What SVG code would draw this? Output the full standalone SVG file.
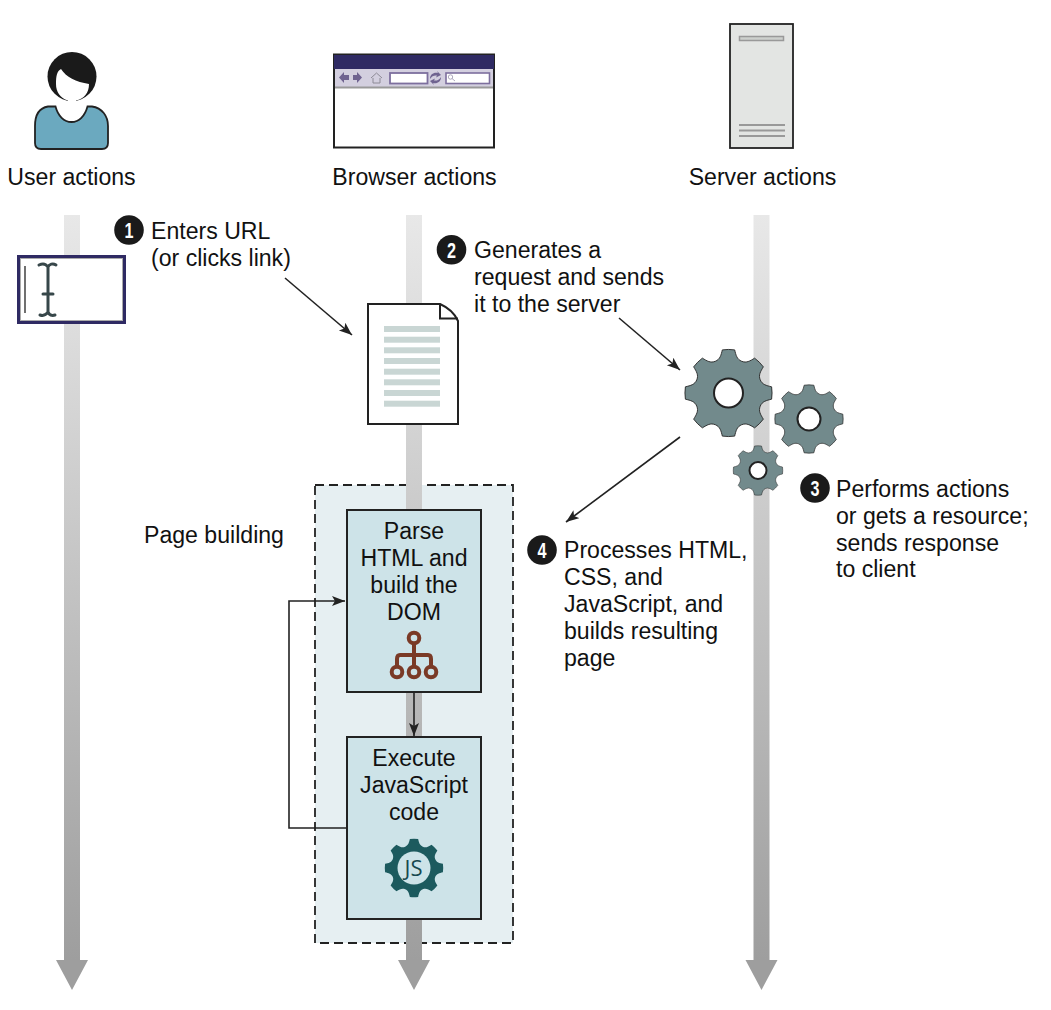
<svg xmlns="http://www.w3.org/2000/svg" width="1051" height="1010" viewBox="0 0 1051 1010">
<style>
text{font-family:"Liberation Sans",Arial,sans-serif;font-size:23.1px;fill:#111}
.c{text-anchor:middle}
.num{font-size:22px;font-weight:bold;fill:#fff}
.ln{fill:none;stroke:#222;stroke-width:1.6}
.box{fill:#cde3e8;stroke:#222;stroke-width:2}
.gear{fill:#728a8c;stroke:#222;stroke-width:2;stroke-linejoin:round;vector-effect:non-scaling-stroke}
.hole{fill:#fff;stroke:#222;stroke-width:2}
.dl{fill:#c9d6d4}
.tb{fill:#6f6390}
.sl{stroke:#999;stroke-width:2}
</style>
<defs>
<linearGradient id="life" gradientUnits="userSpaceOnUse" x1="0" y1="215" x2="0" y2="960">
<stop offset="0" stop-color="#e8e8e8"/><stop offset="1" stop-color="#9e9e9e"/>
</linearGradient>
<marker id="arr" markerUnits="userSpaceOnUse" markerWidth="15" markerHeight="12" refX="13" refY="5" orient="auto">
<path d="M0,0L13,5L0,10L3,5Z" fill="#222"/>
</marker>
<path id="gearShape" d="M-29.900,-72.100C-18.900,-76.700 -17,-86 -14,-98Q0,-100 14,-98C17,-86 18.900,-76.700 29.900,-72.100C40.900,-67.600 48.800,-72.800 59.400,-79.200Q70.700,-70.700 79.200,-59.400C72.800,-48.800 67.600,-40.900 72.100,-29.900C76.700,-18.900 86,-17 98,-14Q100,0 98,14C86,17 76.700,18.900 72.100,29.900C67.600,40.900 72.800,48.800 79.200,59.400Q70.700,70.700 59.400,79.200C48.800,72.800 40.900,67.600 29.900,72.100C18.900,76.700 17,86 14,98Q0,100 -14,98C-17,86 -18.900,76.700 -29.900,72.100C-40.900,67.600 -48.800,72.800 -59.400,79.200Q-70.700,70.700 -79.200,59.400C-72.800,48.800 -67.600,40.900 -72.100,29.900C-76.700,18.900 -86,17 -98,14Q-100,0 -98,-14C-86,-17 -76.700,-18.900 -72.100,-29.900C-67.600,-40.900 -72.800,-48.800 -79.200,-59.400Q-70.700,-70.700 -59.400,-79.200C-48.800,-72.800 -40.900,-67.600 -29.900,-72.100Z"/>
</defs>

<g id="lifeline-user"><path fill="url(#life)" d="M64,215H80V960H88L72,990L56,960H64Z"/></g>
<g id="page-building-panel"><rect x="315" y="485" width="198" height="458" fill="#e6eff2" stroke="#222" stroke-width="1.800" stroke-dasharray="9 5"/></g>
<g id="lifeline-browser"><path fill="url(#life)" d="M406,215H422V960H430L414,990L398,960H406Z"/></g>
<g id="lifeline-server"><path fill="url(#life)" d="M753.500,215H769.500V960H777.500L761.500,990L745.500,960H753.500Z"/></g>

<g id="user-icon">
<circle cx="72" cy="76.500" r="24.500" fill="#1a1a1a"/>
<path d="M56,84C56,76 57,71 61,69C66,77 76,82 89,84C89,93 84,99 76,100.500L76,104H68L68,100.500C60,98 56,92 56,84Z" fill="#fff"/>
<path d="M48,106.500H55.500C58,116 64,122 71.500,122C79,122 85,116 87.500,106.500H92C102,108 108,116 108,126V143C108,147 106,149 102,149H41C37,149 35,147 35,143V126C35,115 39,108 48,106.500Z" fill="#6ba9bf" stroke="#222" stroke-width="1.800"/>
<text class="c" x="71.500" y="185">User actions</text>
</g>

<g id="browser-icon">
<rect x="334" y="54.500" width="160" height="93" fill="#fff" stroke="#222" stroke-width="2"/>
<rect x="334" y="55" width="160" height="14" fill="#2f2a63"/>
<rect x="335" y="69" width="158" height="18" fill="#d3cfdf"/>
<rect x="335" y="86.500" width="158" height="2" fill="#999"/>
<path class="tb" d="M339,77.500L344,72V75H349V80H344V83Z"/>
<path class="tb" d="M362,77.500L357,72V75H353V80H357V83Z"/>
<path d="M371,78L376.500,73L382,78M373,78V83H380V78" fill="none" stroke="#8d8a96" stroke-width="1"/>
<rect x="390" y="73" width="37.500" height="10.500" fill="#fff" stroke="#7d6f9e" stroke-width="1.800"/>
<path class="tb" d="M430,79C430,74 434,72 438,73L437,71L441,75L436,77.500L437,75.500C434,75 432,76 430,79ZM441,77C441,82 437,84 433,83L434,85L430,81L435,78.500L434,80.500C437,81 439,80 441,77Z"/>
<rect x="446" y="73" width="43.500" height="10.500" fill="#fff" stroke="#7d6f9e" stroke-width="1.600"/>
<circle cx="450.500" cy="77" r="2.200" fill="none" stroke="#9a94ad" stroke-width="0.800"/>
<path d="M452,78.500L455,81" stroke="#9a94ad" stroke-width="0.800"/>
<text class="c" x="414.500" y="185">Browser actions</text>
</g>

<g id="server-icon">
<rect x="730" y="24" width="63" height="124" fill="#e3e5e3" stroke="#222" stroke-width="1.800"/>
<rect x="739.500" y="36.500" width="44" height="4" fill="#cdd0cd" stroke="#999" stroke-width="1.500"/>
<path class="sl" d="M739,125H785M739,130.500H785M739,136H785"/>
<text class="c" x="762.500" y="185">Server actions</text>
</g>

<g id="text-field">
<rect x="18.500" y="256.500" width="106" height="66" fill="#fff" stroke="#2f2a63" stroke-width="3"/>
<rect x="20.500" y="258.500" width="102" height="62" fill="none" stroke="#aaa" stroke-width="1"/>
<path d="M25,266V313" stroke="#222" stroke-width="1.300"/>
<path d="M39,265C43,263 46,264 48,267C49,264 53,263 56,265M48,267V312M40,315C43,316 46,315 48,312C49,315 52,316 55,315M43,294H53" fill="none" stroke="#37474a" stroke-width="3" stroke-linecap="round"/>
</g>

<g id="document">
<path d="M368,304H440C449,308 455,314 458,321V424H368Z" fill="#fff" stroke="#222" stroke-width="2"/>
<path d="M440,304V318.500H458" fill="none" stroke="#222" stroke-width="2"/>
<rect class="dl" x="384" y="326" width="56" height="6"/><rect class="dl" x="384" y="336.700" width="56" height="6"/><rect class="dl" x="384" y="347.300" width="56" height="6"/><rect class="dl" x="384" y="358" width="56" height="6"/><rect class="dl" x="384" y="368.700" width="56" height="6"/><rect class="dl" x="384" y="379.300" width="56" height="6"/><rect class="dl" x="384" y="390" width="56" height="6"/><rect class="dl" x="384" y="400.700" width="56" height="6"/>
</g>

<g id="gear-large"><use href="#gearShape" class="gear" transform="translate(728.500,393) scale(0.44)"/><circle class="hole" cx="728.500" cy="393" r="14.500"/></g>
<g id="gear-medium"><use href="#gearShape" class="gear" transform="translate(809,419) scale(0.345)"/><circle class="hole" cx="809" cy="419" r="11.500"/></g>
<g id="gear-small"><use href="#gearShape" class="gear" transform="translate(758,470.500) scale(0.25)"/><circle class="hole" cx="758" cy="470.500" r="8.500"/></g>

<g id="parse-box">
<rect class="box" x="347" y="510" width="134" height="182"/>
<text class="c" x="414" y="539">Parse</text><text class="c" x="414" y="566">HTML and</text><text class="c" x="414" y="593">build the</text><text class="c" x="414" y="620">DOM</text>
<g fill="none" stroke="#7a3a26" stroke-width="4">
<circle cx="414" cy="638" r="5.300"/><circle cx="397" cy="672" r="5.300"/><circle cx="414" cy="672" r="5.300"/><circle cx="431" cy="672" r="5.300"/>
<path d="M414,643V667M397,667V659C397,656 398,655 400,655H428C430,655 431,656 431,659V667"/>
</g>
</g>

<g id="execute-box">
<rect class="box" x="347" y="737" width="134" height="182"/>
<text class="c" x="414" y="766">Execute</text><text class="c" x="414" y="793">JavaScript</text><text class="c" x="414" y="820">code</text>
<use href="#gearShape" fill="#1c5a5e" transform="translate(414,868) scale(0.295)"/>
<circle cx="414" cy="868" r="16.500" fill="#cde3e8"/>
<text class="c" x="413.500" y="876" style="font-family:'Open Sans',sans-serif;font-size:22px;fill:#17494f">JS</text>
</g>

<g id="connectors">
<path class="ln" marker-end="url(#arr)" d="M285,278L352,335"/>
<path class="ln" marker-end="url(#arr)" d="M619,318L680,370"/>
<path class="ln" marker-end="url(#arr)" d="M680,437L566,522"/>
<path class="ln" marker-end="url(#arr)" d="M414,692V736"/>
<path class="ln" marker-end="url(#arr)" d="M347,828H289V601H345"/>
</g>

<g id="label-1"><circle cx="129" cy="230" r="14.800" fill="#1a1a1a"/><text class="num" x="124.500" y="238" textLength="9" lengthAdjust="spacingAndGlyphs">1</text>
<text x="151" y="239">Enters URL</text><text x="151" y="266">(or clicks link)</text></g>
<g id="label-2"><circle cx="451.500" cy="249.700" r="14.800" fill="#1a1a1a"/><text class="num" x="447" y="257.700" textLength="9" lengthAdjust="spacingAndGlyphs">2</text>
<text x="474" y="258">Generates a</text><text x="474" y="285">request and sends</text><text x="474" y="312">it to the server</text></g>
<g id="label-3"><circle cx="815" cy="488" r="14.800" fill="#1a1a1a"/><text class="num" x="810.500" y="496" textLength="9" lengthAdjust="spacingAndGlyphs">3</text>
<text x="836" y="497">Performs actions</text><text x="836" y="524">or gets a resource;</text><text x="836" y="551">sends response</text><text x="836" y="577">to client</text></g>
<g id="label-4"><circle cx="542" cy="550" r="14.800" fill="#1a1a1a"/><text class="num" x="537.500" y="558" textLength="9" lengthAdjust="spacingAndGlyphs">4</text>
<text x="564" y="558">Processes HTML,</text><text x="564" y="585">CSS, and</text><text x="564" y="612">JavaScript, and</text><text x="564" y="639">builds resulting</text><text x="564" y="666">page</text></g>
<g id="label-page-building"><text x="144" y="543">Page building</text></g>
</svg>
